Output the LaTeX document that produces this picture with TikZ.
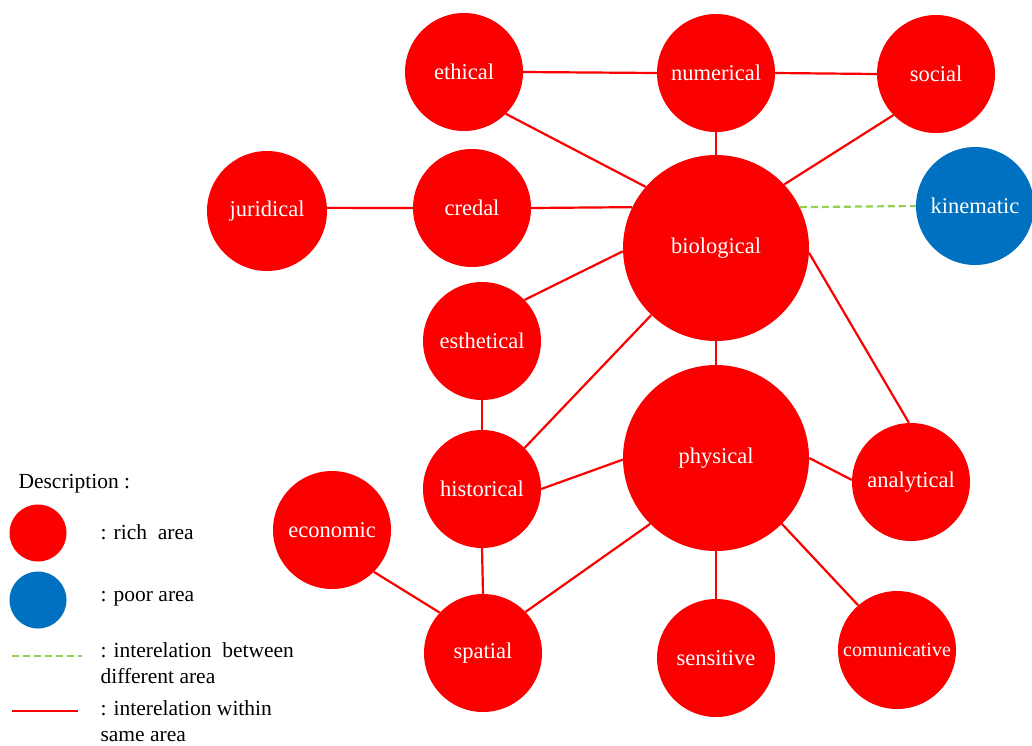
\documentclass[tikz,border=0pt]{standalone}
\usepackage{fontspec}
\setmainfont{Liberation Serif}
\usepackage{tikz}
\usetikzlibrary{positioning}
\usepackage{xcolor}
\definecolor{richred}{RGB}{250,0,0}
\definecolor{poorblue}{RGB}{0,112,192}
\definecolor{linkgreen}{RGB}{146,208,80}

\begin{document}
\begin{tikzpicture}[x=1pt,y=-1pt,
  area/.style={circle,fill=richred,text=white,inner sep=0pt,
    minimum size=118pt,font=\fontsize{22.5}{26}\selectfont},
  bigarea/.style={area,minimum size=186pt},
  poorarea/.style={area,fill=poorblue},
  within/.style={draw=richred,line width=2.2pt},
  between/.style={draw=linkgreen,line width=2.2pt,dash pattern=on 7pt off 4pt},
  legtext/.style={anchor=west,align=left,font=\fontsize{21.5}{26}\selectfont}]
\useasboundingbox (0,0) rectangle (1032,745);

% areas
\node[area] (ethical) at (464,72) {ethical};
\node[area] (numerical) at (716,73) {numerical};
\node[area] (social) at (936,74) {social};
\node[area,minimum size=120pt] (juridical) at (267,211) {juridical};
\node[area] (credal) at (472,208) {credal};
\node[bigarea] (biological) at (716,248) {biological};
\node[poorarea] (kinematic) at (975,206) {kinematic};
\node[area] (esthetical) at (482,341) {esthetical};
\node[area] (historical) at (482,489) {historical};
\node[bigarea] (physical) at (716,458) {physical};
\node[area] (analytical) at (911,482) {analytical};
\node[area] (economic) at (332,530) {economic};
\node[area] (spatial) at (483,653) {spatial};
\node[area] (sensitive) at (716,658) {sensitive};
\node[area,font=\fontsize{20}{22}\selectfont] (comunicative) at (897,650) {comunicative};

% interelations
\draw[within] (ethical.east) -- (numerical.west);
\draw[within] (numerical.east) -- (social.west);
\draw[within] (ethical.-45) -- (biological.139);
\draw[within] (numerical.south) -- (biological.north);
\draw[within] (social.224) -- (biological.43);
\draw[within] (juridical.3) -- (credal.west);
\draw[within] (credal.east) -- (biological.154.5);
\draw[within] (esthetical.44) -- (biological.182);
\draw[within] (historical.44) -- (biological.226);
\draw[within] (biological.south) -- (physical.north);
\draw[within] (biological.-3) -- (analytical.92);
\draw[within] (esthetical.south) -- (historical.north);
\draw[within] (historical.east) -- (physical.181);
\draw[within] (historical.south) -- (spatial.north);
\draw[within] (economic.-45) -- (spatial.137);
\draw[within] (spatial.44) -- (physical.225);
\draw[within] (physical.south) -- (sensitive.north);
\draw[within] (physical.-45) -- (comunicative.131);
\draw[within] (physical.east) -- (analytical.178);
\draw[between] (biological.26.8) -- (kinematic.west);

% description
\node[legtext] (desc) at (15,484) {Description :};
\node[circle,fill=richred,minimum size=57pt,inner sep=0pt] (richkey) at (38,533) {};
\node[legtext] (richtxt) at (97,532) {: rich~ area};
\node[circle,fill=poorblue,minimum size=57pt,inner sep=0pt] (poorkey) at (38,600) {};
\node[legtext] (poortxt) at (97,599) {: poor area};
\coordinate (gA) at (12,656);
\coordinate (gB) at (82,656);
\draw[between] (gA) -- (gB);
\node[legtext] (betweentxt) at (97,663) {: interelation~ between\\different area};
\coordinate (rA) at (12,711);
\coordinate (rB) at (78,711);
\draw[within] (rA) -- (rB);
\node[legtext] (withintxt) at (97,721) {: interelation within\\same area};
\end{tikzpicture}
\end{document}
